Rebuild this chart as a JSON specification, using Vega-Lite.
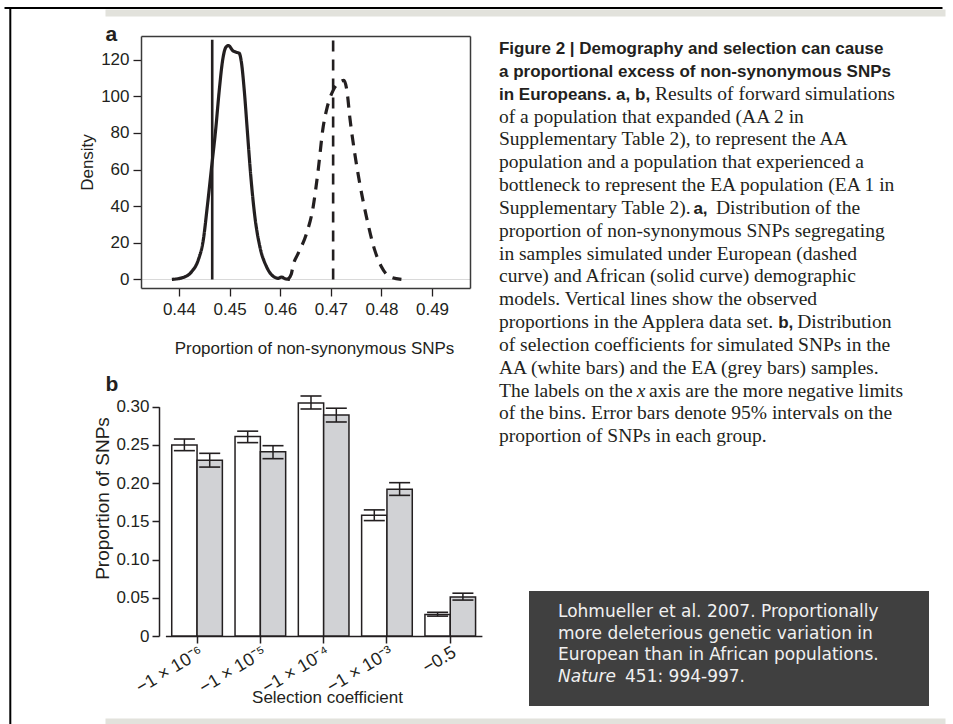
{
  "$schema": "https://vega.github.io/schema/vega-lite/v6.json",
  "width": 953,
  "height": 724,
  "autosize": "none",
  "padding": 0,
  "background": "#ffffff",
  "config": {
    "view": {"stroke": null},
    "font": "Liberation Sans",
    "axis": {
      "grid": false,
      "labelFont": "Liberation Sans",
      "titleFont": "Liberation Sans",
      "labelColor": "#231f20",
      "titleColor": "#231f20",
      "titleFontWeight": "normal",
      "domainColor": "#231f20",
      "tickColor": "#231f20",
      "labelFlush": false,
      "labelOverlap": false,
      "labelFontSize": 17,
      "titleFontSize": 17
    }
  },
  "resolve": {
    "scale": {"x": "independent", "y": "independent"},
    "axis": {"x": "independent", "y": "independent"}
  },
  "layer": [
    {
      "data": {
        "values": [
          {"model": "African", "p": 0.4386, "density": 0},
          {"model": "African", "p": 0.44085, "density": 1.1},
          {"model": "African", "p": 0.4425, "density": 4.2},
          {"model": "African", "p": 0.4438, "density": 10.5},
          {"model": "African", "p": 0.4448, "density": 21.4},
          {"model": "African", "p": 0.44559, "density": 39.6},
          {"model": "African", "p": 0.44645, "density": 61.4},
          {"model": "African", "p": 0.44724, "density": 81.5},
          {"model": "African", "p": 0.44796, "density": 103.3},
          {"model": "African", "p": 0.44862, "density": 119.6},
          {"model": "African", "p": 0.44928, "density": 126.9},
          {"model": "African", "p": 0.4498, "density": 127.8},
          {"model": "African", "p": 0.4506, "density": 125.1},
          {"model": "African", "p": 0.45125, "density": 124.2},
          {"model": "African", "p": 0.4519, "density": 123.6},
          {"model": "African", "p": 0.45238, "density": 117.8},
          {"model": "African", "p": 0.4529, "density": 103.3},
          {"model": "African", "p": 0.4535, "density": 81.5},
          {"model": "African", "p": 0.45415, "density": 57.8},
          {"model": "African", "p": 0.455, "density": 34.2},
          {"model": "African", "p": 0.45599, "density": 17.8},
          {"model": "African", "p": 0.45731, "density": 6.9},
          {"model": "African", "p": 0.45895, "density": 1.1},
          {"model": "African", "p": 0.4596, "density": 0.6},
          {"model": "African", "p": 0.46027, "density": 1.3},
          {"model": "African", "p": 0.461, "density": 0.3},
          {"model": "African", "p": 0.46191, "density": 0},
          {"model": "European", "p": 0.4615, "density": 0},
          {"model": "European", "p": 0.4622, "density": 3},
          {"model": "European", "p": 0.46257, "density": 7.8},
          {"model": "European", "p": 0.46355, "density": 14.2},
          {"model": "European", "p": 0.4652, "density": 25},
          {"model": "European", "p": 0.46651, "density": 39.6},
          {"model": "European", "p": 0.4675, "density": 59.6},
          {"model": "European", "p": 0.46849, "density": 83.3},
          {"model": "European", "p": 0.46914, "density": 92.4},
          {"model": "European", "p": 0.47046, "density": 103.3},
          {"model": "European", "p": 0.47178, "density": 107.8},
          {"model": "European", "p": 0.47257, "density": 108.7},
          {"model": "European", "p": 0.47322, "density": 102.4},
          {"model": "European", "p": 0.47375, "density": 88.7},
          {"model": "European", "p": 0.47474, "density": 68.7},
          {"model": "European", "p": 0.47572, "density": 52.4},
          {"model": "European", "p": 0.47704, "density": 34.2},
          {"model": "European", "p": 0.47868, "density": 16},
          {"model": "European", "p": 0.48, "density": 6.9},
          {"model": "European", "p": 0.48164, "density": 1.5},
          {"model": "European", "p": 0.48395, "density": 0}
        ]
      },
      "resolve": {"axis": {"x": "independent", "y": "independent"}},
      "layer": [
        {
          "mark": {"type": "line", "interpolate": "monotone", "strokeWidth": 3.2, "color": "#231f20"},
          "encoding": {
            "x": {
              "field": "p", "type": "quantitative",
              "scale": {"domain": [0.4325, 0.4975], "range": [141, 470], "nice": false, "zero": false},
              "axis": {
                "orient": "bottom", "offset": -436,
                "values": [0.44, 0.45, 0.46, 0.47, 0.48, 0.49], "format": ".2f",
                "tickSize": 8, "tickWidth": 1.3, "domainWidth": 1.5, "domainColor": "#3a3a3a",
                "labelPadding": 5,
                "title": "Proportion of non-synonymous SNPs",
                "titleX": 314, "titleY": 60, "titleAlign": "center", "titleBaseline": "middle", "titleAngle": 0
              }
            },
            "y": {
              "field": "density", "type": "quantitative",
              "scale": {"domain": [-4.7, 133], "range": [288, 36], "nice": false, "zero": false},
              "axis": {
                "orient": "left", "offset": -141,
                "values": [0, 20, 40, 60, 80, 100, 120],
                "tickSize": 8, "tickWidth": 1.3, "domainWidth": 1.5, "domainColor": "#3a3a3a",
                "labelPadding": 4,
                "title": "Density",
                "titleX": -54, "titleY": 162, "titleAngle": 270, "titleAlign": "center", "titleBaseline": "middle",
                "grid": true, "gridColor": "#d9d9d9", "gridWidth": 1.2,
                "gridOpacity": {"condition": {"test": "datum.value === 0", "value": 1}, "value": 0}
              }
            },
            "strokeDash": {
              "field": "model", "type": "nominal",
              "scale": {"domain": ["African", "European"], "range": [[1, 0], [11, 8]]},
              "legend": null
            }
          }
        },
        {
          "data": {
            "values": [
              {"model": "African", "observed": 0.44657, "lo": 0, "hi": 131},
              {"model": "European", "observed": 0.47046, "lo": 0, "hi": 131}
            ]
          },
          "mark": {"type": "rule", "strokeWidth": 2.6, "color": "#231f20"},
          "encoding": {
            "x": {
              "field": "observed", "type": "quantitative",
              "scale": {"domain": [0.4325, 0.4975], "range": [141, 470], "nice": false, "zero": false},
              "axis": {
                "orient": "top", "offset": -36,
                "ticks": false, "labels": false, "domainWidth": 1.5, "domainColor": "#3a3a3a",
                "title": "a", "titleFontSize": 21, "titleFontWeight": "bold",
                "titleX": 105, "titleY": 4.5, "titleAlign": "left", "titleBaseline": "alphabetic", "titleAngle": 0
              }
            },
            "y": {
              "field": "lo", "type": "quantitative",
              "scale": {"domain": [-4.7, 133], "range": [288, 36], "nice": false, "zero": false},
              "axis": {
                "orient": "right", "offset": -483,
                "ticks": false, "labels": false, "domainWidth": 1.5, "domainColor": "#3a3a3a",
                "title": null
              }
            },
            "y2": {"field": "hi"},
            "strokeDash": {
              "field": "model", "type": "nominal",
              "scale": {"domain": ["African", "European"], "range": [[1, 0], [11, 8]]},
              "legend": null
            }
          }
        }
      ]
    },
    {
      "data": {
        "values": [
          {"bin": "−1 × 10⁻⁶", "group": "AA", "prop": 0.25, "lo": 0.2425, "hi": 0.2577},
          {"bin": "−1 × 10⁻⁶", "group": "EA", "prop": 0.23, "lo": 0.221, "hi": 0.239},
          {"bin": "−1 × 10⁻⁵", "group": "AA", "prop": 0.261, "lo": 0.253, "hi": 0.268},
          {"bin": "−1 × 10⁻⁵", "group": "EA", "prop": 0.241, "lo": 0.232, "hi": 0.249},
          {"bin": "−1 × 10⁻⁴", "group": "AA", "prop": 0.305, "lo": 0.297, "hi": 0.314},
          {"bin": "−1 × 10⁻⁴", "group": "EA", "prop": 0.289, "lo": 0.28, "hi": 0.298},
          {"bin": "−1 × 10⁻³", "group": "AA", "prop": 0.158, "lo": 0.151, "hi": 0.165},
          {"bin": "−1 × 10⁻³", "group": "EA", "prop": 0.192, "lo": 0.184, "hi": 0.2006},
          {"bin": "−0.5", "group": "AA", "prop": 0.028, "lo": 0.026, "hi": 0.031},
          {"bin": "−0.5", "group": "EA", "prop": 0.051, "lo": 0.047, "hi": 0.056}
        ]
      },
      "resolve": {"axis": {"x": "independent", "y": "independent"}},
      "layer": [
        {
          "mark": {"type": "bar", "stroke": "#231f20", "strokeWidth": 1.5},
          "encoding": {
            "x": {
              "field": "bin", "type": "nominal",
              "sort": ["−1 × 10⁻⁶", "−1 × 10⁻⁵", "−1 × 10⁻⁴", "−1 × 10⁻³", "−0.5"],
              "scale": {"range": [165.4, 481.9], "paddingInner": 0.2, "paddingOuter": 0.1},
              "axis": {
                "orient": "bottom", "offset": -88,
                "labelAngle": -31, "labelAlign": "right", "labelBaseline": "top", "labelFontSize": 18,
                "tickSize": 7, "tickWidth": 1.5, "domainWidth": 1.5, "labelPadding": 0,
                "title": "Selection coefficient",
                "titleX": 327, "titleY": 61, "titleAlign": "center", "titleBaseline": "middle", "titleAngle": 0
              }
            },
            "xOffset": {"field": "group", "type": "nominal", "sort": ["AA", "EA"]},
            "y": {
              "field": "prop", "type": "quantitative",
              "scale": {"domain": [0, 0.3], "range": [636, 406.7], "nice": false, "zero": false},
              "axis": {
                "orient": "left", "offset": -159,
                "values": [0, 0.05, 0.1, 0.15, 0.2, 0.25, 0.3],
                "labelExpr": "datum.value === 0 ? '0' : format(datum.value, '.2f')",
                "tickSize": 7, "tickWidth": 1.5, "domainWidth": 1.5, "labelPadding": 3,
                "title": "Proportion of SNPs", "titleFontSize": 19,
                "titleX": -57, "titleY": 498, "titleAngle": 270, "titleAlign": "center", "titleBaseline": "middle"
              }
            },
            "fill": {
              "field": "group", "type": "nominal",
              "scale": {"domain": ["AA", "EA"], "range": ["#ffffff", "#d1d2d5"]},
              "legend": null
            }
          }
        },
        {
          "mark": {"type": "rule", "strokeWidth": 1.5, "color": "#231f20"},
          "encoding": {
            "x": {
              "field": "bin", "type": "nominal",
              "sort": ["−1 × 10⁻⁶", "−1 × 10⁻⁵", "−1 × 10⁻⁴", "−1 × 10⁻³", "−0.5"],
              "scale": {"range": [165.4, 481.9], "paddingInner": 0.2, "paddingOuter": 0.1},
              "axis": {
                "orient": "top", "offset": -390.5,
                "domain": false, "ticks": false, "labels": false,
                "title": "b", "titleFontSize": 21, "titleFontWeight": "bold",
                "titleX": 105, "titleY": 0, "titleAlign": "left", "titleBaseline": "alphabetic", "titleAngle": 0
              }
            },
            "xOffset": {"field": "group", "type": "nominal", "sort": ["AA", "EA"]},
            "y": {
              "field": "lo", "type": "quantitative",
              "scale": {"domain": [0, 0.3], "range": [636, 406.7], "nice": false, "zero": false},
              "axis": null
            },
            "y2": {"field": "hi"}
          }
        },
        {
          "mark": {"type": "tick", "orient": "horizontal", "size": 21, "thickness": 1.6, "color": "#231f20", "opacity": 1},
          "encoding": {
            "x": {
              "field": "bin", "type": "nominal",
              "sort": ["−1 × 10⁻⁶", "−1 × 10⁻⁵", "−1 × 10⁻⁴", "−1 × 10⁻³", "−0.5"],
              "scale": {"range": [165.4, 481.9], "paddingInner": 0.2, "paddingOuter": 0.1},
              "axis": null
            },
            "xOffset": {"field": "group", "type": "nominal", "sort": ["AA", "EA"]},
            "y": {
              "field": "lo", "type": "quantitative",
              "scale": {"domain": [0, 0.3], "range": [636, 406.7], "nice": false, "zero": false},
              "axis": null
            }
          }
        },
        {
          "mark": {"type": "tick", "orient": "horizontal", "size": 21, "thickness": 1.6, "color": "#231f20", "opacity": 1},
          "encoding": {
            "x": {
              "field": "bin", "type": "nominal",
              "sort": ["−1 × 10⁻⁶", "−1 × 10⁻⁵", "−1 × 10⁻⁴", "−1 × 10⁻³", "−0.5"],
              "scale": {"range": [165.4, 481.9], "paddingInner": 0.2, "paddingOuter": 0.1},
              "axis": null
            },
            "xOffset": {"field": "group", "type": "nominal", "sort": ["AA", "EA"]},
            "y": {
              "field": "hi", "type": "quantitative",
              "scale": {"domain": [0, 0.3], "range": [636, 406.7], "nice": false, "zero": false},
              "axis": null
            }
          }
        }
      ]
    },
    {
      "data": {
        "values": [
          {"line": 1, "f": "b", "pos": 0, "t": "Figure 2 | Demography and selection can cause"},
          {"line": 2, "f": "b", "pos": 0, "t": "a proportional excess of non-synonymous SNPs"},
          {"line": 3, "f": "b", "pos": 0, "t": "in Europeans.  a, b,"},
          {"line": 3, "f": "s", "pos": 39.4, "t": "Results of forward simulations"},
          {"line": 4, "f": "s", "pos": 0, "t": "of a population that expanded (AA 2 in"},
          {"line": 5, "f": "s", "pos": 0, "t": "Supplementary Table 2), to represent the AA"},
          {"line": 6, "f": "s", "pos": 0, "t": "population and a population that experienced a"},
          {"line": 7, "f": "s", "pos": 0, "t": "bottleneck to represent the EA population (EA 1 in"},
          {"line": 8, "f": "s", "pos": 0, "t": "Supplementary Table 2)."},
          {"line": 8, "f": "b", "pos": 49.1, "t": "a,"},
          {"line": 8, "f": "s", "pos": 54.8, "t": "Distribution of the"},
          {"line": 9, "f": "s", "pos": 0, "t": "proportion of non-synonymous SNPs segregating"},
          {"line": 10, "f": "s", "pos": 0, "t": "in samples simulated under European (dashed"},
          {"line": 11, "f": "s", "pos": 0, "t": "curve) and African (solid curve) demographic"},
          {"line": 12, "f": "s", "pos": 0, "t": "models. Vertical lines show the observed"},
          {"line": 13, "f": "s", "pos": 0, "t": "proportions in the Applera data set."},
          {"line": 13, "f": "b", "pos": 70.5, "t": "b,"},
          {"line": 13, "f": "s", "pos": 75.3, "t": "Distribution"},
          {"line": 14, "f": "s", "pos": 0, "t": "of selection coefficients for simulated SNPs in the"},
          {"line": 15, "f": "s", "pos": 0, "t": "AA (white bars) and the EA (grey bars) samples."},
          {"line": 16, "f": "s", "pos": 0, "t": "The labels on the"},
          {"line": 16, "f": "i", "pos": 34.8, "t": "x"},
          {"line": 16, "f": "s", "pos": 37.9, "t": "axis are the more negative limits"},
          {"line": 17, "f": "s", "pos": 0, "t": "of the bins. Error bars denote 95% intervals on the"},
          {"line": 18, "f": "s", "pos": 0, "t": "proportion of SNPs in each group."}
        ]
      },
      "resolve": {"axis": {"x": "independent", "y": "independent"}},
      "layer": [
        {
          "transform": [{"filter": "datum.f === 'b'"}],
          "mark": {"type": "text", "align": "left", "baseline": "alphabetic", "font": "Liberation Sans", "fontWeight": "bold", "fontSize": 17, "color": "#231f20"},
          "encoding": {
            "x": {
              "field": "pos", "type": "quantitative",
              "scale": {"domain": [-99.49, 112.63], "range": [105, 945], "nice": false, "zero": false},
              "axis": {"orient": "top", "offset": -12.5, "domainColor": "#e2e2dc", "domainWidth": 7, "ticks": false, "labels": false, "title": null}
            },
            "y": {
              "field": "line", "type": "quantitative",
              "scale": {"domain": [-1.014, 30.33], "range": [8, 724], "nice": false, "zero": false},
              "axis": {"orient": "left", "offset": -9.8, "domainColor": "#000000", "domainWidth": 2, "ticks": false, "labels": false, "title": null}
            },
            "text": {"field": "t"}
          }
        },
        {
          "transform": [{"filter": "datum.f === 's'"}],
          "mark": {"type": "text", "align": "left", "baseline": "alphabetic", "font": "Liberation Serif", "fontSize": 19.5, "color": "#231f20"},
          "encoding": {
            "x": {
              "field": "pos", "type": "quantitative",
              "scale": {"domain": [-99.49, 112.63], "range": [105, 945], "nice": false, "zero": false},
              "axis": {"orient": "bottom", "offset": -3, "domainColor": "#e2e2dc", "domainWidth": 6, "ticks": false, "labels": false, "title": null}
            },
            "y": {
              "field": "line", "type": "quantitative",
              "scale": {"domain": [-1.014, 30.33], "range": [8, 724], "nice": false, "zero": false},
              "axis": null
            },
            "text": {"field": "t"}
          }
        },
        {
          "transform": [{"filter": "datum.f === 'i'"}],
          "mark": {"type": "text", "align": "left", "baseline": "alphabetic", "font": "Liberation Serif", "fontStyle": "italic", "fontSize": 19.5, "color": "#231f20"},
          "encoding": {
            "x": {
              "field": "pos", "type": "quantitative",
              "scale": {"domain": [-99.49, 112.63], "range": [105, 945], "nice": false, "zero": false},
              "axis": null
            },
            "y": {
              "field": "line", "type": "quantitative",
              "scale": {"domain": [-1.014, 30.33], "range": [8, 724], "nice": false, "zero": false},
              "axis": null
            },
            "text": {"field": "t"}
          }
        }
      ]
    },
    {
      "data": {
        "values": [
          {"line": 1, "f": "n", "pos": 7.25, "t": "Lohmueller et al. 2007. Proportionally"},
          {"line": 2, "f": "n", "pos": 7.25, "t": "more deleterious genetic variation in"},
          {"line": 3, "f": "n", "pos": 7.25, "t": "European than in African populations."},
          {"line": 4, "f": "i", "pos": 7.25, "t": "Nature"},
          {"line": 4, "f": "n", "pos": 24, "t": "451: 994-997."}
        ]
      },
      "resolve": {"axis": {"x": "independent", "y": "independent"}},
      "layer": [
        {
          "data": {"values": [{"box": "citation"}]},
          "mark": {"type": "rect", "fill": "#404040"},
          "encoding": {
            "x": {
              "datum": 0, "type": "quantitative",
              "scale": {"domain": [-131.25, 103.25], "range": [4, 942], "nice": false, "zero": false},
              "axis": {"orient": "top", "offset": -7.5, "domainColor": "#000000", "domainWidth": 2.2, "ticks": false, "labels": false, "title": null}
            },
            "x2": {"datum": 100},
            "y": {
              "datum": -0.225, "type": "quantitative",
              "scale": {"domain": [1, 4], "range": [617.3, 681.7], "nice": false, "zero": false},
              "axis": null
            },
            "y2": {"datum": 5.13}
          }
        },
        {
          "transform": [{"filter": "datum.f === 'n'"}],
          "mark": {"type": "text", "align": "left", "baseline": "alphabetic", "font": "DejaVu Sans", "fontSize": 17, "color": "#f0f0f0"},
          "encoding": {
            "x": {
              "field": "pos", "type": "quantitative",
              "scale": {"domain": [-131.25, 103.25], "range": [4, 942], "nice": false, "zero": false},
              "axis": null
            },
            "y": {
              "field": "line", "type": "quantitative",
              "scale": {"domain": [1, 4], "range": [617.3, 681.7], "nice": false, "zero": false},
              "axis": null
            },
            "text": {"field": "t"}
          }
        },
        {
          "transform": [{"filter": "datum.f === 'i'"}],
          "mark": {"type": "text", "align": "left", "baseline": "alphabetic", "font": "DejaVu Sans", "fontStyle": "italic", "fontSize": 17, "color": "#f0f0f0"},
          "encoding": {
            "x": {
              "field": "pos", "type": "quantitative",
              "scale": {"domain": [-131.25, 103.25], "range": [4, 942], "nice": false, "zero": false},
              "axis": null
            },
            "y": {
              "field": "line", "type": "quantitative",
              "scale": {"domain": [1, 4], "range": [617.3, 681.7], "nice": false, "zero": false},
              "axis": null
            },
            "text": {"field": "t"}
          }
        }
      ]
    }
  ]
}
